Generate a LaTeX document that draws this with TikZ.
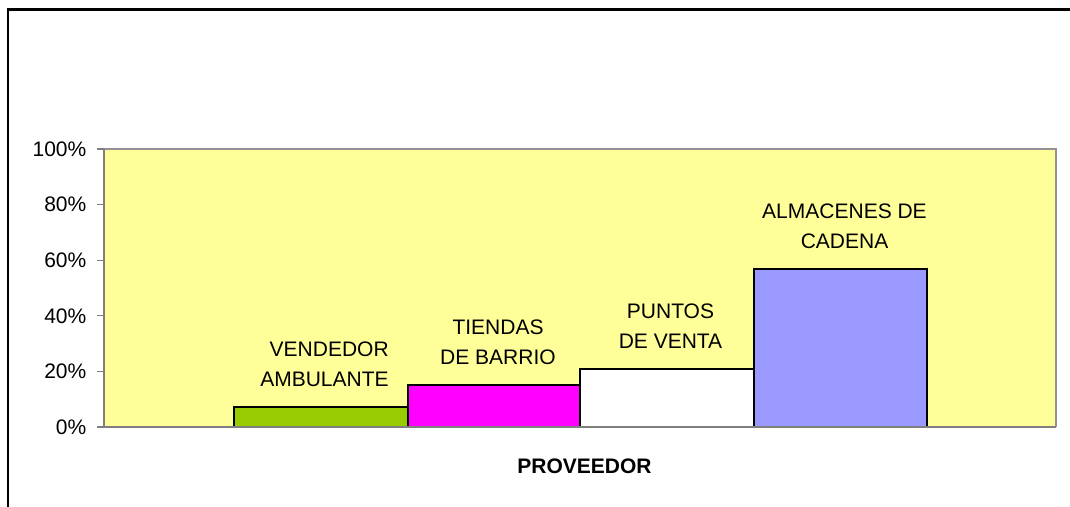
\documentclass[tikz,border=0pt]{standalone}
\usepackage{fontspec}
\setmainfont{Liberation Sans}
\definecolor{plotbg}{HTML}{FFFF99}
\definecolor{bargreen}{HTML}{99CC00}
\definecolor{barmag}{HTML}{FF00FF}
\definecolor{barblue}{HTML}{9999FF}
\definecolor{axisgray}{HTML}{7F7F7F}
\tikzset{
  bar/.style={draw=black, line width=1.8pt},
  lbl/.style={font=\fontsize{21}{30}\selectfont, inner sep=0pt, align=center},
  ticklbl/.style={font=\fontsize{21}{25}\selectfont, inner sep=0pt, anchor=east},
  tickmark/.style={draw=axisgray, line width=1.2pt},
}
\begin{document}
\begin{tikzpicture}[x=1pt,y=-1pt]
\useasboundingbox (0,0) rectangle (1070,506);
% outer chart frame (left and top visible)
\draw[line width=2.6pt, line cap=rect] (8,506) -- (8,9.5) -- (1070,9.5);
% plot area
\fill[plotbg] (104,149) rectangle (1056,427);
\draw[axisgray!85, line width=1.3pt] (104,149) -- (1056,149) -- (1056,427);
% bars
\draw[bar, fill=bargreen] (234,427) rectangle (408,407);
\draw[bar, fill=barmag]   (408,427) rectangle (580,385);
\draw[bar, fill=white]    (580,427) rectangle (754,369);
\draw[bar, fill=barblue]  (754,427) rectangle (927,269);
% axes
\draw[axisgray, line width=1.3pt] (104,149) -- (104,427) -- (1056,427);
\foreach \v/\y in {0/427,20/371.4,40/315.8,60/260.2,80/204.6,100/149}{
  \draw[tickmark] (97,\y) -- (104,\y);
  \node[ticklbl] (t\v) at (86.5,\y) {\v\%};
}
% data labels
\node[lbl, align=right] (l1) at (324.5,364.5) {VENDEDOR\\AMBULANTE};
\node[lbl] (l2) at (498,342) {TIENDAS\\DE BARRIO};
\node[lbl] (l3) at (670.5,326.5) {PUNTOS\\DE VENTA};
\node[lbl] (l4) at (844.5,226.5) {ALMACENES DE\\CADENA};
% axis title
\node[font=\fontsize{21}{25}\selectfont\bfseries, inner sep=0pt] (xt) at (584.5,466.5) {PROVEEDOR};
\end{tikzpicture}
\end{document}
